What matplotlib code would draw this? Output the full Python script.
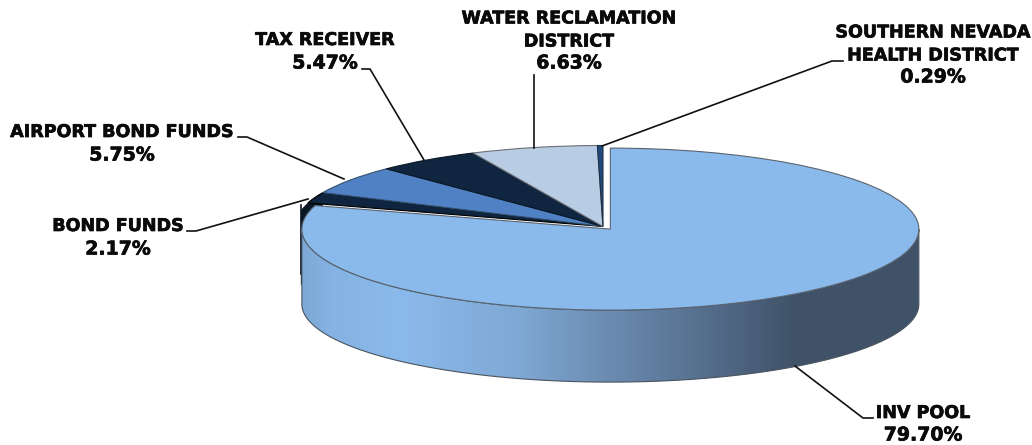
import numpy as np
import matplotlib
matplotlib.use("Agg")
import matplotlib.pyplot as plt
import matplotlib.patheffects as pe
from matplotlib.colors import LinearSegmentedColormap

W, H = 1032, 445

labels = ["INV POOL", "BOND FUNDS", "AIRPORT BOND FUNDS", "TAX RECEIVER",
          "WATER RECLAMATION\nDISTRICT", "SOUTHERN NEVADA\nHEALTH DISTRICT"]
shares = [79.70, 2.17, 5.75, 5.47, 6.63, 0.29]
colors = ["#8ab9eb", "#0f243e", "#4f81c4", "#10253f", "#b8cce4", "#1f497d"]
edges = ["#5a6470", "#000000", "#33506f", "#0a1726", "#6c6f75", "#1f2f45"]

# label positions and leader lines, pixels from top left
name_xy = [(923, 413), (118, 226), (122, 132), (325, 40), (569, 30), (933, 44)]
share_y = [435, 249, 155, 63, 63, 77]
leaders = [
    [(795, 366), (863, 418), (873, 418)],
    [(187, 231), (196, 231), (308, 199)],
    [(238, 137), (247, 137), (344, 179)],
    [(362, 69), (370, 69), (424, 160)],
    [(534, 75), (534, 148)],
    [(602, 146), (832, 61), (843, 61)],
]

# pie geometry in pixels
cx, cy = 603.0, 226.5
rx, ry = 308.5, 81.0
depth = 75.0 / ry

fig = plt.figure(figsize=(W / 100, H / 100), dpi=100)
ax = fig.add_axes([0, 0, 1, 1])
wedges, _ = ax.pie(shares, colors=colors, startangle=90, counterclock=False,
                   explode=[0.04, 0, 0, 0, 0, 0],
                   wedgeprops={"linewidth": 0.8})
for w, ec in zip(wedges, edges):
    w.set_edgecolor(ec)
    w.set_zorder(4)

# side wall of the pulled out slice
c0 = wedges[0].center
t = np.linspace(np.pi, 2 * np.pi, 200)
x_low = c0[0] + np.cos(t)
wall_x = np.r_[x_low, x_low[::-1]]
wall_y = np.r_[c0[1] + np.sin(t), c0[1] + 0.963 * np.sin(t[::-1]) - depth]

cmap = LinearSegmentedColormap.from_list("wall", [
    (0.00, "#7ea9d6"), (0.05, "#85b3e3"), (0.16, "#8ab9eb"), (0.35, "#7fa8d4"),
    (0.48, "#6d8fb5"), (0.65, "#566f8e"), (0.80, "#3f5268"), (1.00, "#3f5268")])
grad = np.linspace(0, 1, 400).reshape(1, -1)
im = ax.imshow(grad, cmap=cmap, aspect="auto", zorder=2,
               extent=(c0[0] - 1, c0[0] + 1, c0[1] - 1 - depth, c0[1] + 1))
patch = plt.Polygon(np.c_[wall_x, wall_y], closed=True, fc="none", ec="#4a5560",
                    lw=0.8, zorder=3)
ax.add_patch(patch)
im.set_clip_path(patch)

# dark wall of the small slice behind it, only a sliver shows
a1 = wedges[1].theta1 % 360
left = c0[0] - 1 - 1.0 / rx
arc = np.radians(np.linspace(a1, 180, 40))
bx = np.maximum(np.cos(arc), left)
by = np.sin(arc)
ax.fill(np.r_[bx, bx[::-1]], np.r_[by, by[::-1] - depth],
        color="#0a1624", lw=0, zorder=1.5)
ax.plot([left, left], [0.27, -0.59], color="#0a1624", lw=1.2, zorder=1.5)

ax.set_aspect("auto")
ax.set_xlim(-cx / rx, (W - cx) / rx)
ax.set_ylim((cy - H) / ry, cy / ry)
ax.axis("off")

# overlay in pixels for the labels
over = fig.add_axes([0, 0, 1, 1])
over.set_xlim(0, W)
over.set_ylim(H, 0)
over.axis("off")
over.patch.set_alpha(0)

heavy = [pe.withStroke(linewidth=0.5, foreground="#0a0a0a")]
for name, share, (lx, ly), sy, line in zip(labels, shares, name_xy, share_y, leaders):
    xs, ys = zip(*line)
    over.plot(xs, ys, color="#111111", lw=1.2, solid_joinstyle="miter")
    over.text(lx, ly, name, ha="center", va="center", fontsize=12.6,
              fontweight="bold", color="#0a0a0a", family="DejaVu Sans",
              linespacing=1.36, path_effects=heavy)
    over.text(lx, sy, f"{share:.2f}%", ha="center", va="center", fontsize=13.6,
              fontweight="bold", color="#0a0a0a", family="DejaVu Sans",
              path_effects=heavy)

fig.savefig("out.png", dpi=100)
